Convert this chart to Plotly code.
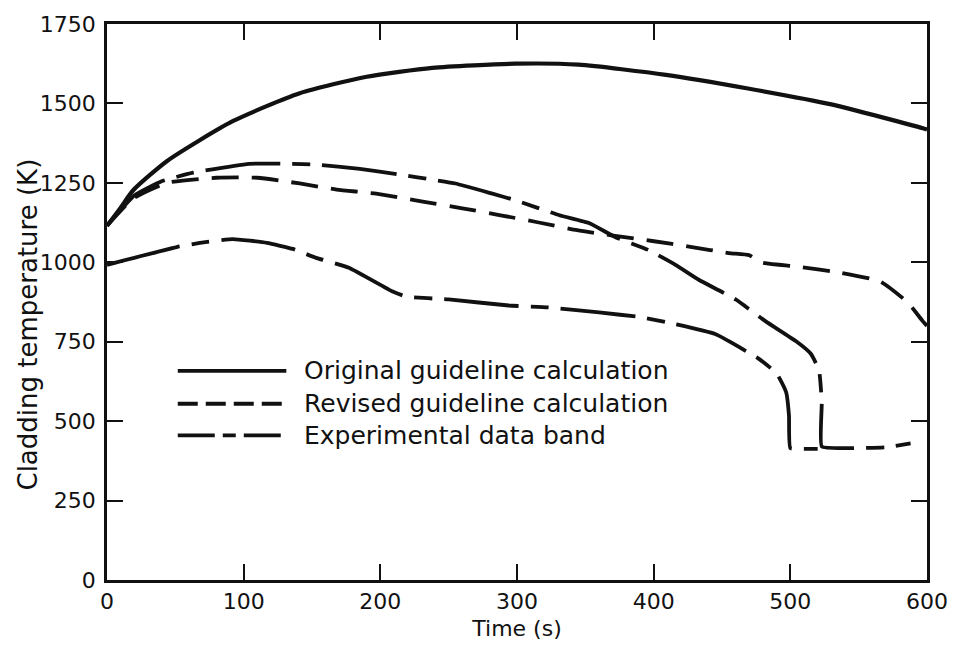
import plotly.graph_objects as go

# ---- data ----
t_orig = [0, 10, 19, 44, 92, 141, 190, 238, 299, 345, 409, 469, 530, 597, 600]
T_orig = [1115, 1172, 1226, 1319, 1444, 1532, 1584, 1612, 1625, 1622, 1590, 1547, 1497, 1422, 1418]

t_rev = [0, 19, 44, 80, 110, 141, 168, 197, 231, 260, 288, 315, 344, 369, 399, 428, 455, 470, 478,
         506, 537, 566, 586, 597, 600]
T_rev = [1115, 1200, 1250, 1266, 1266, 1248, 1229, 1216, 1191, 1170, 1148, 1126, 1101, 1085, 1067,
         1048, 1029, 1022, 1000, 986, 967, 939, 873, 814, 800]

t_band_hi = [0, 20, 40, 63, 104, 134, 153, 185, 214, 238, 255, 282, 299, 331, 353, 372, 396, 416,
             433, 460, 482, 504, 515, 521, 523, 523, 540, 570, 588]
T_band_hi = [1115, 1210, 1255, 1282, 1310, 1310, 1307, 1294, 1276, 1260, 1248, 1216, 1195, 1148,
             1123, 1079, 1039, 992, 945, 883, 814, 752, 712, 660, 560, 420, 415, 418, 430]

t_band_lo = [0, 51, 68, 92, 117, 136, 153, 177, 209, 219, 250, 294, 323, 360, 391, 416, 445, 477,
             490, 497, 499, 500, 510, 520]
T_band_lo = [992, 1048, 1061, 1073, 1061, 1042, 1014, 983, 908, 892, 883, 864, 858, 842, 827, 805,
             774, 696, 650, 590, 518, 415, 413, 413]

x_ticks = [0, 100, 200, 300, 400, 500, 600]
y_ticks = [0, 250, 500, 750, 1000, 1250, 1500, 1750]

legend_labels = ["Original guideline calculation",
                 "Revised guideline calculation",
                 "Experimental data band"]

# ---- styles ----
INK = "#111111"
FONT = "DejaVu Sans"
LW = 3.8
dash_rev = "27px,13px"
dash_band = "75px,12px,18px,12px"

fig = go.Figure()
fig.add_trace(go.Scatter(x=t_orig, y=T_orig, mode="lines", showlegend=False,
                         line=dict(color=INK, width=4.2, shape="spline", smoothing=0.6)))
fig.add_trace(go.Scatter(x=t_rev, y=T_rev, mode="lines", showlegend=False,
                         line=dict(color=INK, width=LW, dash=dash_rev, shape="spline", smoothing=0.5)))
fig.add_trace(go.Scatter(x=t_band_hi, y=T_band_hi, mode="lines", showlegend=False,
                         line=dict(color=INK, width=LW, dash=dash_band, shape="spline", smoothing=0.4)))
fig.add_trace(go.Scatter(x=t_band_lo, y=T_band_lo, mode="lines", showlegend=False,
                         line=dict(color=INK, width=LW, dash=dash_band, shape="spline", smoothing=0.4)))

# ---- hand-made legend (paper coordinates) ----
leg_rows = [0.376, 0.317, 0.260]
leg_dashes = ["solid", "20px,8px", "37px,8px,13px,8px"]
shapes = []
annotations = []
for lab, yy, dd in zip(legend_labels, leg_rows, leg_dashes):
    shapes.append(dict(type="line", xref="paper", yref="paper", x0=0.0863, x1=0.2187,
                       y0=yy, y1=yy, line=dict(color=INK, width=LW, dash=dd)))
    annotations.append(dict(xref="paper", yref="paper", x=0.238, y=yy, xanchor="left",
                            yanchor="middle", text=lab, showarrow=False,
                            font=dict(family=FONT, size=25, color=INK)))

annotations.append(dict(xref="paper", yref="paper", x=-0.096, y=0.46, textangle=-90,
                        text="Cladding temperature (K)", showarrow=False,
                        xanchor="center", yanchor="middle",
                        font=dict(family=FONT, size=26, color=INK)))

axis_common = dict(showgrid=False, zeroline=False, showline=True, linecolor=INK, linewidth=2.6,
                   mirror="ticks", ticks="inside", ticklen=16, tickwidth=2.4, tickcolor=INK,
                   tickfont=dict(family=FONT, size=22, color=INK))

fig.update_layout(
    width=960, height=650,
    margin=dict(l=107, r=30, t=22, b=67),
    paper_bgcolor="white", plot_bgcolor="white",
    xaxis=dict(range=[0, 600], tickvals=x_ticks, ticktext=[str(v) for v in x_ticks],
               title=dict(text="Time (s)", font=dict(family=FONT, size=22, color=INK), standoff=8),
               **axis_common),
    yaxis=dict(range=[0, 1750], tickvals=y_ticks, ticktext=[str(v) for v in y_ticks],
               ticklabelstandoff=4, **axis_common),
    shapes=shapes, annotations=annotations,
    showlegend=False,
)

fig.write_html("out.html")
